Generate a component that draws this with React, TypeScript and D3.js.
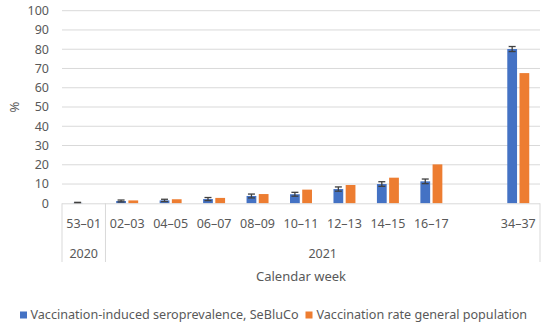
import React from 'react';
import * as d3 from 'd3';

// calendar week pairs; the '' slot is the empty gap before 34–37
const categories = ['53–01', '02–03', '04–05', '06–07', '08–09', '10–11', '12–13', '14–15', '16–17', '', '34–37'];
const seroprevalence = [0.2, 1.2, 1.5, 2.2, 3.8, 4.7, 7.4, 10.0, 11.4, null, 80.1];
const seroError = [0.3, 0.5, 0.6, 0.8, 1.0, 1.0, 1.1, 1.2, 1.2, null, 1.3];
const vaccinationRate = [0, 1.5, 2.1, 2.8, 4.8, 7.1, 9.5, 13.3, 20.2, null, 67.6];
const years = ['2020', '2021'];
const yearSpans = [1, 10];
const yTicks = [0, 10, 20, 30, 40, 50, 60, 70, 80, 90, 100];
const seriesNames = ['Vaccination-induced seroprevalence, SeBluCo', 'Vaccination rate general population'];

const BLUE = '#4472c4';
const ORANGE = '#ed7d31';
const TEXT = '#595959';
const GRID = '#d9d9d9';
const FONT = '"Noto Sans", sans-serif';

export default function App() {
  const width = 550, height = 326;
  const margin = { top: 10.7, right: 10, bottom: 122.7, left: 62 };

  const x = d3.scaleBand<string>()
    .domain(categories)
    .range([margin.left, width - margin.right]);
  const xs = d3.scaleBand<string>()
    .domain(['sero', 'vacc'])
    .range([0, x.bandwidth()])
    .paddingInner(0.2)
    .paddingOuter(0.88);
  const y = d3.scaleLinear()
    .domain([0, 100])
    .range([height - margin.bottom, margin.top]);

  const y0 = y(0);
  const axisBottom = 262;

  // year group boundaries along the category scale
  const yearEdges: number[] = [x.range()[0]];
  let idx = 0;
  yearSpans.forEach((n) => {
    idx += n;
    yearEdges.push(idx < categories.length ? (x(categories[idx]) as number) : x.range()[1]);
  });

  return (
    <svg width={width} height={height} style={{ position: 'absolute', left: 0, top: 0, background: '#fff' }}
      fontFamily={FONT}>
      {/* grid */}
      {yTicks.map((t) => (
        <g key={t}>
          {t > 0 && <line x1={margin.left} x2={width - margin.right} y1={y(t)} y2={y(t)} stroke={GRID} strokeWidth={1} />}
          <text x={49} y={y(t)} dy="0.35em" textAnchor="end" fontSize={12.5} fill={TEXT}>{t}</text>
        </g>
      ))}
      <text transform={`translate(14,${y(50)}) rotate(-90)`} textAnchor="middle" dy="0.35em" fontSize={13} fill={TEXT}>%</text>

      {/* bars */}
      {categories.map((c, i) => {
        const bx = x(c) as number;
        const s = seroprevalence[i];
        const v = vaccinationRate[i];
        const e = seroError[i];
        if (s === null || v === null) return null;
        const sx = bx + (xs('sero') as number);
        const vx = bx + (xs('vacc') as number);
        const cx = sx + xs.bandwidth() / 2;
        return (
          <g key={i}>
            <rect x={sx} y={y(s)} width={xs.bandwidth()} height={y0 - y(s)} fill={BLUE} />
            <rect x={vx} y={y(v)} width={xs.bandwidth()} height={y0 - y(v)} fill={ORANGE} />
            {e !== null && (
              <g stroke="#404040" strokeWidth={1.3}>
                <line x1={cx} x2={cx} y1={y(s + e)} y2={y(Math.max(0, s - e))} />
                <line x1={cx - 3.5} x2={cx + 3.5} y1={y(s + e)} y2={y(s + e)} />
                <line x1={cx - 3.5} x2={cx + 3.5} y1={y(Math.max(0, s - e))} y2={y(Math.max(0, s - e))} />
              </g>
            )}
          </g>
        );
      })}

      {/* category axis table */}
      <line x1={margin.left} x2={width - margin.right} y1={y0 + 0.5} y2={y0 + 0.5} stroke={GRID} strokeWidth={1} />
      {yearEdges.map((ex, i) => (
        <line key={i} x1={ex} x2={ex} y1={y0} y2={axisBottom} stroke={GRID} strokeWidth={1} />
      ))}
      {categories.map((c, i) => (
        <text key={i} x={(x(c) as number) + x.bandwidth() / 2} y={228} textAnchor="middle" fontSize={12.5} fill={TEXT}>{c}</text>
      ))}
      {years.map((yr, i) => (
        <text key={yr} x={(yearEdges[i] + yearEdges[i + 1]) / 2} y={258} textAnchor="middle" fontSize={12.5} fill={TEXT}>{yr}</text>
      ))}
      <text x={(margin.left + width - margin.right) / 2} y={281} textAnchor="middle" fontSize={13} fill={TEXT}>Calendar week</text>

      {/* legend */}
      <rect x={20} y={311.5} width={7} height={7} fill={BLUE} />
      <text x={30.5} y={319} fontSize={12.6} fill={TEXT}>{seriesNames[0]}</text>
      <rect x={305.5} y={311.5} width={7} height={7} fill={ORANGE} />
      <text x={316.5} y={319} fontSize={12.6} fill={TEXT}>{seriesNames[1]}</text>
    </svg>
  );
}
